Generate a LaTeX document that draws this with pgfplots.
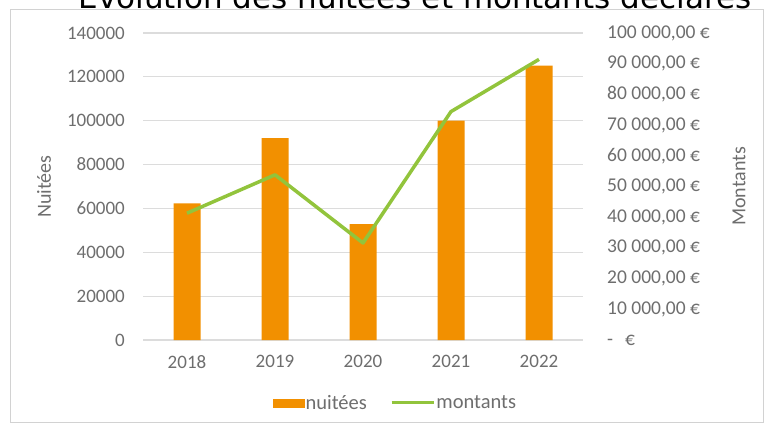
\documentclass[border=0pt]{standalone}
\usepackage{fontspec}
\setmainfont{Carlito}
\newfontfamily\titlefont{DejaVu Sans}
\usepackage{pgfplots}
\pgfplotsset{compat=1.18}
\definecolor{barorange}{RGB}{242,144,0}
\definecolor{linegreen}{RGB}{146,196,60}
\definecolor{gridgray}{RGB}{220,220,220}
\definecolor{ticktext}{RGB}{110,110,110}
\definecolor{framegray}{RGB}{210,210,210}
\begin{document}
\begin{tikzpicture}[x=1pt,y=1pt]
\useasboundingbox (0,0) rectangle (771,426);
\clip (0,0) rectangle (771,426);
\fill[white] (0,0) rectangle (771,426);
\draw[framegray, line width=1pt] (10,4) rectangle (763,416);
\begin{axis}[
  at={(143pt,86pt)}, anchor=south west,
  scale only axis, width=440pt, height=307pt,
  xmin=-0.5, xmax=4.5, ymin=0, ymax=140000,
  scaled y ticks=false,
  xtick={0,1,2,3,4}, xticklabels={2018,2019,2020,2021,2022},
  ytick={0,20000,40000,60000,80000,100000,120000,140000},
  yticklabels={0,20000,40000,60000,80000,100000,120000,140000},
  axis line style={draw=none}, major tick length=0pt,
  ymajorgrids, grid style={gridgray, line width=1.2pt},
  tick label style={font=\fontsize{19}{19}\selectfont, text=ticktext, inner sep=0pt},
  yticklabel style={anchor=east, xshift=-18pt},
  xticklabel style={anchor=north, yshift=-15pt},
  every axis y label/.style={at={(axis description cs:-0.225,0.5)}, rotate=90, anchor=center,
    font=\fontsize{20}{20}\selectfont, text=ticktext},
  ylabel={Nuitées},
  clip=false,
]
\addplot[ybar, bar width=27pt, fill=barorange, draw=none] coordinates {
  (0,62300) (1,92100) (2,52800) (3,100000) (4,125100)};
\end{axis}
\begin{axis}[
  at={(143pt,86pt)}, anchor=south west,
  scale only axis, width=440pt, height=307pt,
  xmin=-0.5, xmax=4.5, ymin=0, ymax=100000,
  scaled y ticks=false,
  axis x line=none, axis y line*=right,
  axis line style={draw=none}, major tick length=0pt,
  ytick={0,10000,20000,30000,40000,50000,60000,70000,80000,90000,100000},
  yticklabels={{-\hspace{12pt}€},{10 000,00 €},{20 000,00 €},{30 000,00 €},{40 000,00 €},{50 000,00 €},{60 000,00 €},{70 000,00 €},{80 000,00 €},{90 000,00 €},{100 000,00 €}},
  tick label style={font=\fontsize{19.5}{19.5}\selectfont, text=ticktext, inner sep=0pt},
  yticklabel style={anchor=west, xshift=24pt},
  every axis y label/.style={at={(axis description cs:1.3545,0.5)}, rotate=90, anchor=center,
    font=\fontsize{20}{20}\selectfont, text=ticktext},
  ylabel={Montants},
  clip=false,
  legend columns=2,
  legend style={at={(axis description cs:0.573,-0.205)}, anchor=center, draw=none, fill=none,
    font=\fontsize{20.5}{20.5}\selectfont, text=ticktext,
    nodes={inner sep=1pt}},
]
\addlegendimage{legend image code/.code={\fill[barorange] (0pt,-4pt) rectangle (31pt,4pt);}}
\addlegendentry{nuitées}
\addplot[linegreen, line width=3.5pt, line join=round,
  legend image code/.code={\path (0pt,0pt) (64pt,0pt); \draw[linegreen, line width=3pt] (22pt,0pt) -- (64pt,0pt);}]
  coordinates {(0,41300) (1,53800) (2,31600) (3,74400) (4,91400)};
\addlegendentry{montants}
\end{axis}
\node[anchor=base, font=\titlefont\fontsize{31}{31}\selectfont, text=black] at (415,417) {Évolution des nuitées et montants déclarés};
\end{tikzpicture}
\end{document}
